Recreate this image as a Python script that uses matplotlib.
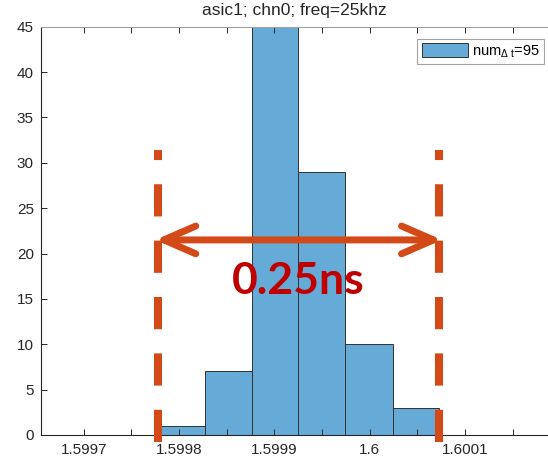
import numpy as np
import matplotlib
matplotlib.use("Agg")
import matplotlib.pyplot as plt
from matplotlib.patches import FancyArrowPatch

plt.rcParams['font.family'] = ['Liberation Sans', 'DejaVu Sans']
plt.rcParams['mathtext.fontset'] = 'custom'
plt.rcParams['mathtext.rm'] = 'Liberation Sans'
plt.rcParams['mathtext.it'] = 'Liberation Sans:italic'

# histogram data
bin_edges = [1.599778, 1.599827, 1.599877, 1.599925, 1.599974, 1.600024, 1.600073]
counts = [1, 7, 45, 29, 10, 3]
x_ticks = [1.5997, 1.5998, 1.5999, 1.6, 1.6001]
x_ticklabels = ['1.5997', '1.5998', '1.5999', '1.6', '1.6001']
y_ticks = [0, 5, 10, 15, 20, 25, 30, 35, 40, 45]
legend_label = r'num$_{\mathrm{\Delta\ t}}$=95'
span_label = '0.25ns'

bar_color = '#66AAD7'
mark_color = '#D34A18'
axis_color = '#262626'

fig = plt.figure(figsize=(5.48, 4.63), dpi=100)
ax = fig.add_axes([0.0743, 0.0605, 0.9275, 0.8818])

edges = np.array(bin_edges)
ax.bar(edges[:-1], counts, width=np.diff(edges), align='edge',
       color=bar_color, edgecolor='#333333', linewidth=0.7, label=legend_label)

ax.set_xlim(1.599655, 1.600188)
ax.set_ylim(0, 45)
ax.set_xticks(x_ticks)
ax.set_xticklabels(x_ticklabels)
ax.set_xticks(np.arange(1.59975, 1.6002, 0.0001), minor=True)
ax.set_yticks(y_ticks)

ax.tick_params(axis='both', which='both', direction='in', length=4, width=0.7,
               colors=axis_color, labelsize=11)
ax.tick_params(axis='x', which='both', top=True, pad=6)
ax.tick_params(axis='y', right=False, pad=5)
for t in ax.xaxis.get_major_ticks() + ax.xaxis.get_minor_ticks():
    t.tick2line.set_color('#a0a0a0')

for s in ['left', 'bottom']:
    ax.spines[s].set_color(axis_color)
    ax.spines[s].set_linewidth(0.8)
ax.spines['top'].set_color('#a0a0a0')
ax.spines['top'].set_linewidth(0.8)
ax.spines['right'].set_visible(False)

fig.text(0.538, 0.978, 'asic1; chn0; freq=25khz', ha='center', va='center',
         fontsize=12.5, color='#262626')

leg = ax.legend(loc='upper right', bbox_to_anchor=(0.9927, 0.9158),
                bbox_transform=fig.transFigure, fontsize=10.5, frameon=True,
                fancybox=False, borderaxespad=0, borderpad=0.3,
                handlelength=3.2, handleheight=1.1, handletextpad=0.25)
leg.get_frame().set_edgecolor('#8c8c8c')
leg.get_frame().set_linewidth(0.8)

# dashed markers at the span limits
for xv in (edges[0], edges[-1]):
    ln, = ax.plot([xv, xv], [-0.77, 31.4], color=mark_color, linewidth=5.8,
                  solid_capstyle='butt', clip_on=False, zorder=5)
    ln.set_dashes([4.0, 3.0])
    ln.set_dash_capstyle('butt')

# double arrow between the markers
pad = 0.000003
arrow = FancyArrowPatch((edges[0] - pad, 21.5), (edges[-1] + pad, 21.5),
                        arrowstyle='<->,head_length=2.3,head_width=1.0',
                        mutation_scale=10, color=mark_color, linewidth=5,
                        shrinkA=0, shrinkB=0,
                        capstyle='round', joinstyle='round', zorder=6)
ax.add_patch(arrow)

ax.text((edges[0] + edges[-1]) / 2 - 0.000001, 16.97, span_label, ha='center',
        va='center', fontsize=32, fontweight='bold', color='#C00000',
        family='Lato', zorder=7)

fig.savefig('out.png', dpi=100)
